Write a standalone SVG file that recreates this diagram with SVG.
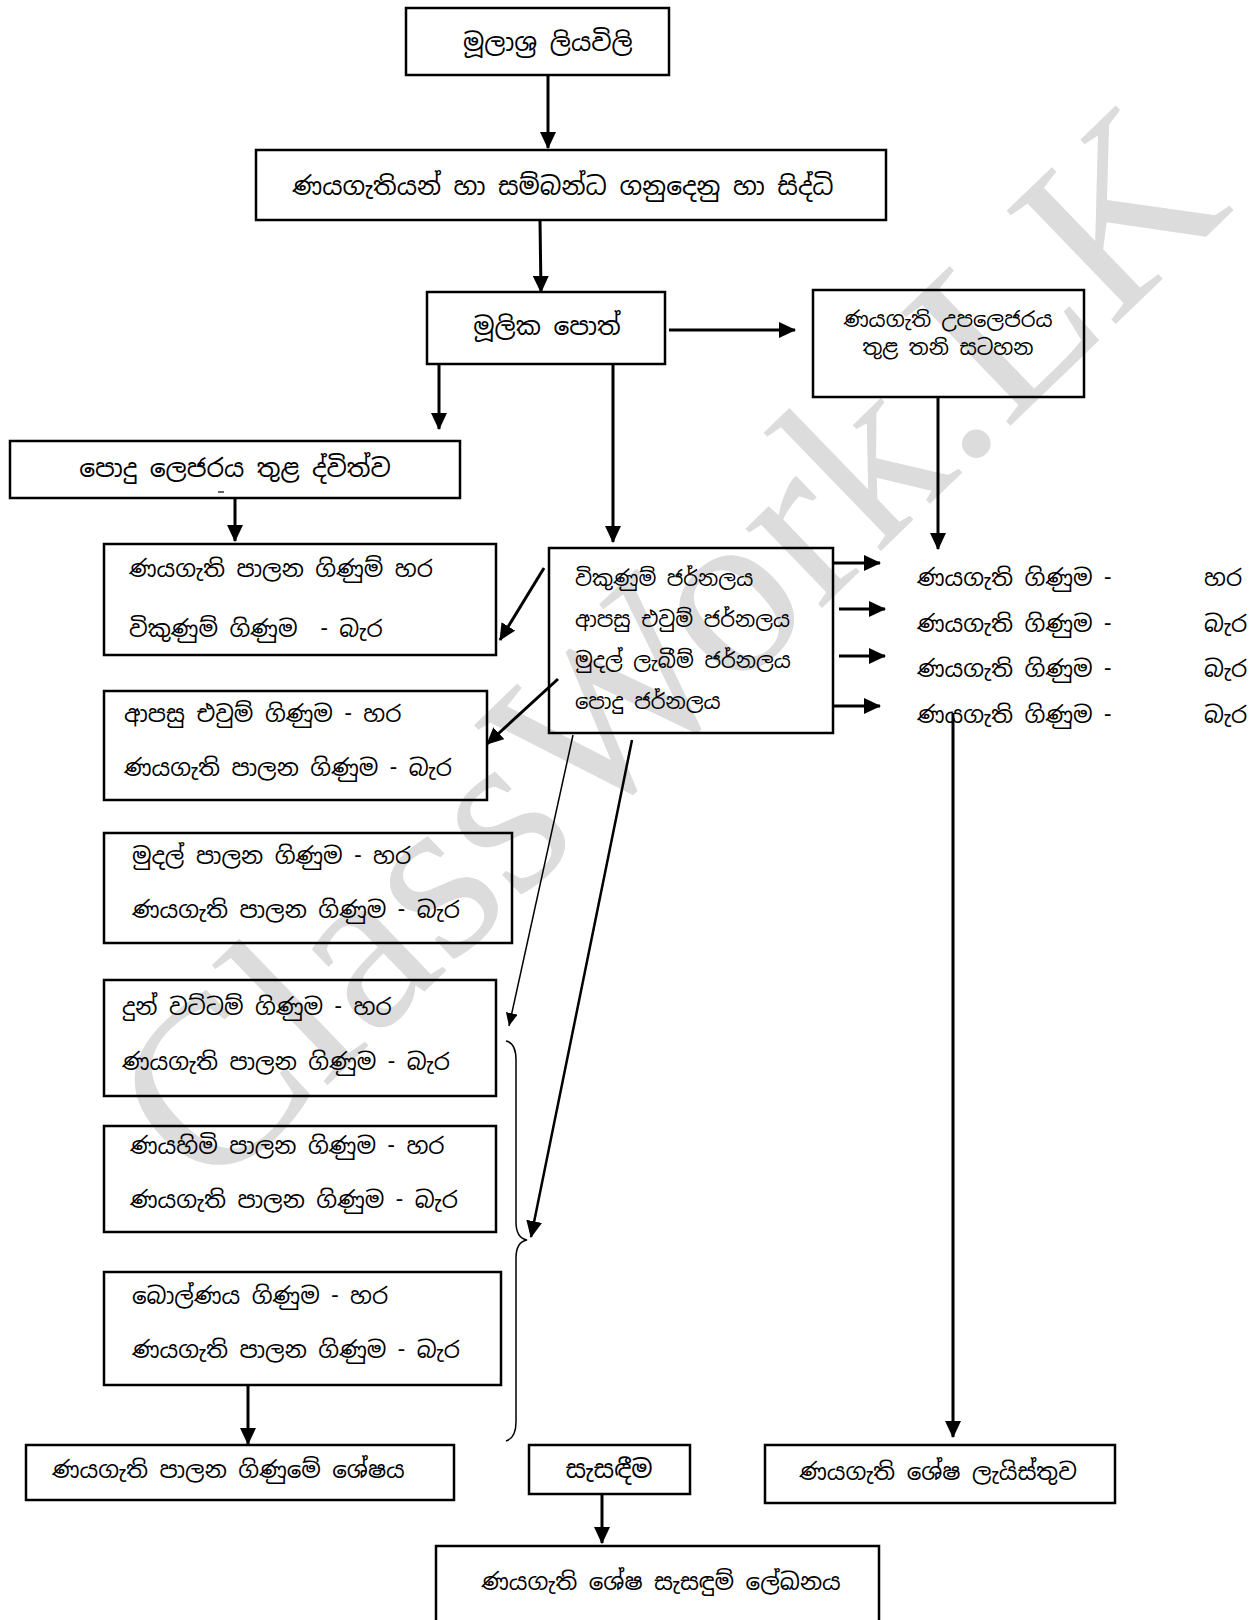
<svg xmlns="http://www.w3.org/2000/svg" width="1260" height="1620" viewBox="0 0 1260 1620">
<defs>
<marker id="ah" markerUnits="userSpaceOnUse" markerWidth="18" markerHeight="16" refX="16" refY="8" orient="auto">
<path d="M0,0 L17,8 L0,16 z" fill="#000"/>
</marker>
<marker id="ahs" markerUnits="userSpaceOnUse" markerWidth="14" markerHeight="12" refX="13" refY="6" orient="auto">
<path d="M0,0 L13,6 L0,12 z" fill="#000"/>
</marker>
<style>
.box{fill:none;stroke:#000;stroke-width:2.5}
.t{font-family:"Noto Sans Sinhala","Iskoola Pota","Noto Sans","DejaVu Sans",sans-serif;font-size:23px;fill:#000}
.b{font-size:25px}
.s{font-size:21px}
.c{text-anchor:middle}
.ln{stroke:#000;stroke-width:3;fill:none}
.thin{stroke:#000;stroke-width:1.5;fill:none}
.wm{font-family:"Liberation Serif",serif;font-size:240px;fill:#dcdcdc}
</style>
</defs>
<rect width="1260" height="1620" fill="#fff"/>
<text class="wm" text-anchor="middle" transform="translate(668,648) rotate(-44)" y="78">ClassWork.LK</text>

<g id="n1"><rect class="box" x="406" y="8" width="263" height="67"/><text class="t b c" x="548" y="51">මූලාශ්‍ර ලියවිලි</text></g>
<g id="n2"><rect class="box" x="256" y="150" width="630" height="70"/><text class="t b c" x="563" y="195">ණයගැතියන් හා සම්බන්ධ ගනුදෙනු හා සිද්ධි</text></g>
<g id="n3"><rect class="box" x="427" y="292" width="238" height="72"/><text class="t b c" x="547" y="335">මූලික පොත්</text></g>
<g id="n4"><rect class="box" x="813" y="290" width="271" height="107"/><text class="t s c" x="948" y="327">ණයගැති උපලෙජරය</text><text class="t s c" x="948" y="355">තුළ තනි සටහන</text></g>
<g id="n5"><rect class="box" x="10" y="441" width="450" height="57"/><text class="t b c" x="235" y="477">පොදු ලෙජරය තුළ ද්විත්ව</text><line x1="218" y1="492" x2="224" y2="492" stroke="#000" stroke-width="1.2"/></g>
<g id="n6"><rect class="box" x="104" y="544" width="392" height="111"/><text class="t" x="129" y="577">ණයගැති පාලන ගිණුම් හර</text><text class="t" x="129" y="637">විකුණුම් ගිණුම&#160; - බැර</text></g>
<g id="n7"><rect class="box" x="549" y="548" width="284" height="185"/><text class="t s" x="575" y="586">විකුණුම් ජර්නලය</text><text class="t s" x="575" y="627">ආපසු එවුම් ජර්නලය</text><text class="t s" x="575" y="668">මුදල් ලැබීම් ජර්නලය</text><text class="t s" x="575" y="709">පොදු ජර්නලය</text></g>
<g id="n8"><text class="t" x="917" y="586">ණයගැති ගිණුම -</text><text class="t" x="1204" y="586">හර</text><text class="t" x="917" y="632">ණයගැති ගිණුම -</text><text class="t" x="1204" y="632">බැර</text><text class="t" x="917" y="677">ණයගැති ගිණුම -</text><text class="t" x="1204" y="677">බැර</text><text class="t" x="917" y="723">ණයගැති ගිණුම -</text><text class="t" x="1204" y="723">බැර</text></g>
<g id="n9"><rect class="box" x="104" y="691" width="383" height="109"/><text class="t" x="124" y="722">ආපසු එවුම් ගිණුම - හර</text><text class="t" x="124" y="776">ණයගැති පාලන ගිණුම - බැර</text></g>
<g id="n10"><rect class="box" x="104" y="833" width="408" height="110"/><text class="t" x="132" y="864">මුදල් පාලන ගිණුම - හර</text><text class="t" x="132" y="918">ණයගැති පාලන ගිණුම - බැර</text></g>
<g id="n11"><rect class="box" x="104" y="980" width="392" height="116"/><text class="t" x="122" y="1015">දුන් වට්ටම් ගිණුම - හර</text><text class="t" x="122" y="1070">ණයගැති පාලන ගිණුම - බැර</text></g>
<g id="n12"><rect class="box" x="104" y="1126" width="392" height="106"/><text class="t" x="130" y="1154">ණයහිමි පාලන ගිණුම - හර</text><text class="t" x="130" y="1208">ණයගැති පාලන ගිණුම - බැර</text></g>
<g id="n13"><rect class="box" x="104" y="1272" width="397" height="113"/><text class="t" x="132" y="1304">බොල්ණය ගිණුම - හර</text><text class="t" x="132" y="1358">ණයගැති පාලන ගිණුම - බැර</text></g>
<g id="n14"><rect class="box" x="26" y="1445" width="428" height="55"/><text class="t" x="52" y="1478">ණයගැති පාලන ගිණුමේ ශේෂය</text></g>
<g id="n15"><rect class="box" x="529" y="1445" width="161" height="49"/><text class="t b c" x="609" y="1478">සැසඳීම</text></g>
<g id="n16"><rect class="box" x="765" y="1445" width="350" height="58"/><text class="t c" x="938" y="1480">ණයගැති ශේෂ ලැයිස්තුව</text></g>
<g id="n17"><rect class="box" x="436" y="1546" width="443" height="90"/><text class="t c" x="661" y="1590">ණයගැති ශේෂ සැසඳුම් ලේඛනය</text></g>

<g id="connectors">
<line class="ln" x1="548" y1="75" x2="548" y2="148" marker-end="url(#ah)"/>
<line class="ln" x1="540" y1="220" x2="541" y2="292" marker-end="url(#ah)"/>
<line class="ln" x1="669" y1="330" x2="795" y2="330" marker-end="url(#ah)"/>
<line class="ln" x1="439" y1="364" x2="439" y2="429" marker-end="url(#ah)"/>
<line class="ln" x1="235" y1="498" x2="235" y2="541" marker-end="url(#ah)"/>
<line class="ln" x1="613" y1="364" x2="613" y2="542" marker-end="url(#ah)"/>
<line class="ln" x1="938" y1="397" x2="938" y2="549" marker-end="url(#ah)"/>
<line class="ln" x1="544" y1="568" x2="500" y2="640" marker-end="url(#ah)"/>
<line class="ln" x1="558" y1="679" x2="487" y2="744" marker-end="url(#ah)"/>
<line class="thin" x1="573" y1="735" x2="509" y2="1026" marker-end="url(#ahs)"/>
<line class="ln" style="stroke-width:2.5" x1="632" y1="740" x2="531" y2="1237" marker-end="url(#ah)"/>
<line class="ln" x1="833" y1="563" x2="880" y2="563" marker-end="url(#ah)"/>
<line class="ln" x1="839" y1="609" x2="885" y2="609" marker-end="url(#ah)"/>
<line class="ln" x1="839" y1="656" x2="885" y2="656" marker-end="url(#ah)"/>
<line class="ln" x1="833" y1="706" x2="880" y2="706" marker-end="url(#ah)"/>
<line class="ln" x1="953" y1="713" x2="953" y2="1437" marker-end="url(#ah)"/>
<line class="ln" x1="248" y1="1385" x2="248" y2="1444" marker-end="url(#ah)"/>
<line class="ln" x1="602" y1="1494" x2="602" y2="1543" marker-end="url(#ah)"/>
<path class="thin" d="M506,1041 Q516,1043 516,1060 L516,1222 Q516,1238 527,1240 Q516,1242 516,1258 L516,1422 Q516,1438 506,1441"/>
</g>
</svg>
